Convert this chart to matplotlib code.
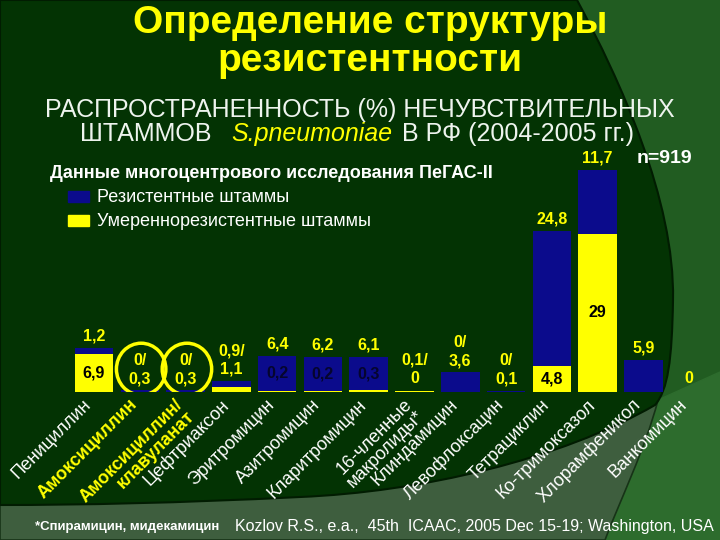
import matplotlib
matplotlib.use('Agg')
import matplotlib.pyplot as plt
from matplotlib.patches import Rectangle, Ellipse, PathPatch, Polygon
from matplotlib.path import Path
import numpy as np

plt.rcParams['font.family'] = ['Liberation Sans', 'DejaVu Sans']

# data (%)
drugs = ['Пенициллин', 'Амоксициллин', 'Амоксициллин/\nклавуланат', 'Цефтриаксон',
         'Эритромицин', 'Азитромицин', 'Кларитромицин', '16-членные\nмакролиды*',
         'Клиндамицин', 'Левофлоксацин', 'Тетрациклин', 'Ко-тримоксазол',
         'Хлорамфеникол', 'Ванкомицин']
resistant = [1.2, 0.3, 0.3, 1.1, 6.4, 6.2, 6.1, 0, 3.6, 0.1, 24.8, 11.7, 5.9, 0]
intermediate = [6.9, 0, 0, 0.9, 0.2, 0.2, 0.3, 0.1, 0, 0, 4.8, 29, 0, 0]
top_labels = ['1,2', '0/\n0,3', '0/\n0,3', '0,9/\n1,1', '6,4', '6,2', '6,1',
              '0,1/\n0', '0/\n3,6', '0/\n0,1', '24,8', '11,7', '5,9', '0']
inner_labels = ['6,9', '', '', '', '0,2', '0,2', '0,3', '', '', '', '4,8', '29', '', '']
highlighted = [1, 2]  # amoxicillin bars circled on the slide

BLUE = '#0b0b8c'
YELLOW = '#ffff00'
DARK = '#033303'

fig = plt.figure(figsize=(7.2, 5.4), dpi=100)

# background in pixel coordinates
bg = fig.add_axes([0, 0, 1, 1], zorder=0)
bg.set_xlim(0, 720)
bg.set_ylim(540, 0)
bg.axis('off')
bg.add_patch(Rectangle((0, 0), 720, 540, color='#215c21'))
bg.add_patch(Polygon([(658, 400), (720, 372), (720, 540), (560, 540)], color='#2d6c2d'))
C = Path.CURVE4
gray = Path([(0, 540), (0, 470), (658, 400), (645, 450), (620, 500), (605, 540), (0, 540)],
            [Path.MOVETO, Path.LINETO, Path.LINETO, C, C, C, Path.CLOSEPOLY])
bg.add_patch(PathPatch(gray, facecolor='#3e5e3e', edgecolor='#173317', lw=1.2))
dark = Path([(0, 0), (577, 0), (620, 80), (675, 200), (673, 300), (672, 360), (668, 390),
             (655, 405), (560, 460), (420, 492), (300, 497), (180, 503), (80, 505), (0, 505),
             (0, 0)],
            [Path.MOVETO, Path.LINETO, C, C, C, C, C, C, C, C, C, C, C, C, Path.CLOSEPOLY])
bg.add_patch(PathPatch(dark, facecolor=DARK, edgecolor='#011c01', lw=1.5))

# titles
bg.text(370, 33, 'Определение структуры', ha='center', va='baseline', fontsize=28,
        fontweight='bold', color=YELLOW)
bg.text(370, 71, 'резистентности', ha='center', va='baseline', fontsize=28,
        fontweight='bold', color=YELLOW)
bg.text(360, 117, 'РАСПРОСТРАНЕННОСТЬ (%) НЕЧУВСТВИТЕЛЬНЫХ', ha='center', va='baseline',
        fontsize=18, color='#eef4ee')
t1 = bg.text(80, 141, 'ШТАММОВ', ha='left', va='baseline', fontsize=18, color='#eef4ee')
t2 = bg.annotate('S.pneumoniae', xy=(1, 0), xycoords=t1, xytext=(14, 0),
                 textcoords='offset points', ha='left', va='bottom', fontsize=18,
                 fontstyle='italic', color=YELLOW)
bg.annotate('В РФ (2004-2005 гг.)', xy=(1, 0), xycoords=t2, xytext=(7, 0),
            textcoords='offset points', ha='left', va='bottom', fontsize=18, color='#eef4ee')

bg.text(50, 178, 'Данные многоцентрового исследования ПеГАС-II', ha='left', va='baseline',
        fontsize=13, fontweight='bold', color='white')
bg.text(637, 163, 'n=919', ha='left', va='baseline', fontsize=14, fontweight='bold',
        color='white')

# legend
bg.add_patch(Rectangle((68, 191), 21, 11, color=BLUE))
bg.add_patch(Rectangle((68, 215), 21, 11, color=YELLOW))
bg.text(97, 197, 'Резистентные штаммы', ha='left', va='center', fontsize=13, color='white')
bg.text(97, 221, 'Умереннорезистентные штаммы', ha='left', va='center', fontsize=13,
        color='white')

# footer
bg.text(35, 530, '*Спирамицин, мидекамицин', ha='left', va='baseline', fontsize=9.5,
        fontweight='bold', color='white')
bg.text(714, 531, 'Kozlov R.S., e.a.,  45th  ICAAC, 2005 Dec 15-19; Washington, USA',
        ha='right', va='baseline', fontsize=11.5, color='white')

# bars
ax = fig.add_axes([71.1 / 720, 148 / 540, 641 / 720, 242 / 540], zorder=1)
ax.set_facecolor('none')
x = np.arange(len(drugs))
ax.bar(x, intermediate, width=0.84, color=YELLOW, lw=0)
ax.bar(x, resistant, bottom=intermediate, width=0.84, color=BLUE, lw=0)
ax.set_xlim(-0.5, len(drugs) - 0.5)
ax.set_ylim(0, 44.4)
ax.axis('off')

for i in x:
    tot = resistant[i] + intermediate[i]
    ax.annotate(top_labels[i], xy=(i, max(tot, 0.3)), xytext=(0, 3),
                textcoords='offset points', ha='center', va='bottom', fontsize=11.5,
                fontweight='bold', color=YELLOW, linespacing=1.3)
    if inner_labels[i]:
        if intermediate[i] >= 4:
            yy, col = intermediate[i] / 2, 'black'
        else:
            yy, col = intermediate[i] + resistant[i] / 2, '#05052e'
        ax.text(i, yy, inner_labels[i], ha='center', va='center', fontsize=11.5,
                fontweight='bold', color=col)

for i in highlighted:
    ax.add_patch(Ellipse((i + 0.03, 4.2), 1.08, 9.5, fill=False, edgecolor=YELLOW, lw=2.5))

for i, name in enumerate(drugs):
    hl = i in highlighted
    ax.annotate(name, xy=(i, 0), xycoords=('data', 'axes fraction'), xytext=(-8, -3),
                textcoords='offset points', rotation=45, rotation_mode='anchor',
                ha='right', va='top', fontsize=13, linespacing=0.95,
                fontweight='bold' if hl else 'normal', color=YELLOW if hl else 'white')

fig.savefig('out.png', dpi=100)
